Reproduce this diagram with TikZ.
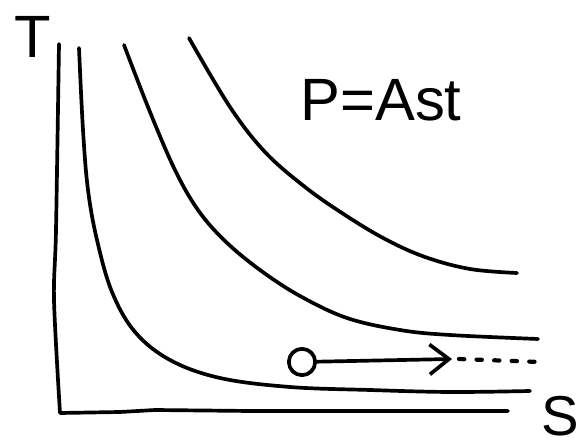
\documentclass[tikz,border=0pt]{standalone}
\usepackage{fontspec}
\setmainfont{Liberation Sans}
\usetikzlibrary{arrows.meta}
\tikzset{
  pen/.style={line width=2.1pt, line cap=round, line join=round},
  axislbl/.style={inner sep=0pt, font=\fontsize{34}{38}\selectfont},
  isoline/.style={pen, smooth, tension=0.6},
  drift/.style={pen, -{Straight Barb[length=11pt, width=17pt, line width=2.1pt]}},
}

\begin{document}
\begin{tikzpicture}[x=0.02cm, y=-0.02cm]
  \useasboundingbox (0,0) rectangle (578,445);

  % axes
  \draw[pen] plot[smooth, tension=0.5] coordinates {(59,44) (56,230) (54,300) (60,413)}
    -- (120,412) -- (155,410) -- (250,411) -- (508,411);
  \node[axislbl] (tlbl) at (33,37) {T};
  \node[axislbl, font=\fontsize{32}{36}\selectfont] (slbl) at (560,416) {S};

  % curves of constant p
  \draw[isoline] plot coordinates {(79,48) (83,130) (88,190) (97,240) (112,292)
    (135,332) (170,360) (220,378) (290,387) (370,390) (450,392) (530,391)};
  \draw[isoline] plot coordinates {(124,45) (150,112) (175,170) (198,210) (225,241)
    (260,270) (300,296) (347,318) (400,330) (450,335) (538,339)};
  \draw[isoline] plot coordinates {(189,38) (230,107) (265,152) (305,187) (345,215)
    (385,239) (425,257) (470,269) (517,273)};

  % label
  \node[axislbl] (plbl) at (381,100) {P=Ast};

  % state moving along the curve
  \node[pen, draw, circle, minimum size=15pt, inner sep=0pt] (start) at (302,362) {};
  \coordinate (tip) at (452,359);
  \coordinate (far) at (540,362);
  \draw[drift] (start) -- (tip);
  \draw[pen, line width=2.4pt, dash pattern=on 3pt off 7pt] ([xshift=4pt]tip) -- (far);
\end{tikzpicture}
\end{document}
